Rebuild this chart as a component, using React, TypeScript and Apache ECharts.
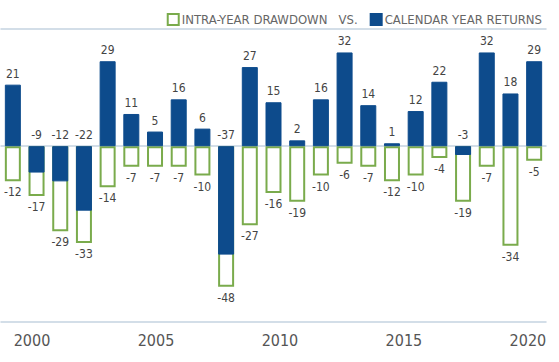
import React, { useEffect, useRef } from "react";
import * as echarts from "echarts";

const years = ["1999","2000","2001","2002","2003","2004","2005","2006","2007","2008","2009","2010","2011","2012","2013","2014","2015","2016","2017","2018","2019","2020","2021"];
const calendarReturns = [21, -9, -12, -22, 29, 11, 5, 16, 6, -37, 27, 15, 2, 16, 32, 14, 1, 12, 22, -3, 32, 18, 29];
const intraYearDrawdowns = [-12, -17, -29, -33, -14, -7, -7, -7, -10, -48, -27, -16, -19, -10, -6, -7, -12, -10, -4, -19, -7, -34, -5];
const xTickLabels = [2000, 2005, 2010, 2015, 2020];

const FONT = "'Liberation Sans Narrow', 'DejaVu Sans Condensed', 'Roboto', sans-serif";
const BLUE = "#0d4b8c";
const GREEN = "#7aab4c";
const LINE = "#c5d3e1";

export default function App() {
  const ref = useRef<HTMLDivElement>(null);
  useEffect(() => {
    if (!ref.current) return;
    const chart = echarts.init(ref.current, undefined, { renderer: "svg" });
    chart.setOption({
      animation: false,
      backgroundColor: "#ffffff",
      grid: { left: 1, right: 13, top: 29, bottom: 40, containLabel: false },
      legend: {
        right: 12,
        top: 8,
        itemWidth: 11,
        itemHeight: 11,
        itemGap: 12,
        icon: "rect",
        data: ["INTRA-YEAR DRAWDOWN", "CALENDAR YEAR RETURNS"],
        formatter: (name: string) => (name === "INTRA-YEAR DRAWDOWN" ? name + "   VS." : name),
        textStyle: { fontFamily: FONT, fontSize: 13, color: "#666666", padding: [0, 0, 0, -2] },
      },
      xAxis: [
        {
          type: "category",
          data: years,
          position: "bottom",
          axisLine: { show: true, onZero: true, lineStyle: { color: LINE, width: 1.5 } },
          axisTick: { show: false },
          axisLabel: { show: false },
          splitLine: { show: false },
        },
        {
          type: "value",
          position: "bottom",
          min: 1998.75,
          max: 2020.73,
          axisLine: { show: true, onZero: false, lineStyle: { color: LINE, width: 1.5 } },
          axisTick: { show: false },
          splitLine: { show: false },
          axisLabel: {
            show: true,
            customValues: xTickLabels,
            formatter: (v: number) => String(v),
            fontFamily: FONT,
            fontSize: 16,
            color: "#555555",
            margin: 10,
          },
        },
        {
          type: "value",
          position: "top",
          min: 0,
          max: 1,
          axisLine: { show: true, onZero: false, lineStyle: { color: LINE, width: 1.5 } },
          axisTick: { show: false },
          axisLabel: { show: false },
          splitLine: { show: false },
        },
      ],
      yAxis: {
        type: "value",
        min: -60,
        max: 40,
        show: false,
        splitLine: { show: false },
      },
      series: [
        {
          name: "INTRA-YEAR DRAWDOWN",
          type: "bar",
          xAxisIndex: 0,
          data: intraYearDrawdowns,
          barWidth: 16,
          itemStyle: { color: "#ffffff", borderColor: GREEN, borderWidth: 2 },
          label: { show: true, position: "bottom", distance: 5, fontFamily: FONT, fontSize: 12, color: "#444444" },
        },
        {
          name: "CALENDAR YEAR RETURNS",
          type: "bar",
          xAxisIndex: 0,
          data: calendarReturns,
          barWidth: 16,
          barGap: "-100%",
          itemStyle: { color: BLUE, borderColor: BLUE, borderWidth: 1 },
          label: { show: true, position: "top", distance: 5, fontFamily: FONT, fontSize: 12, color: "#444444" },
        },
      ],
    });
    return () => chart.dispose();
  }, []);
  return <div ref={ref} style={{ position: "fixed", left: 0, top: 0, width: 559, height: 362 }} />;
}
